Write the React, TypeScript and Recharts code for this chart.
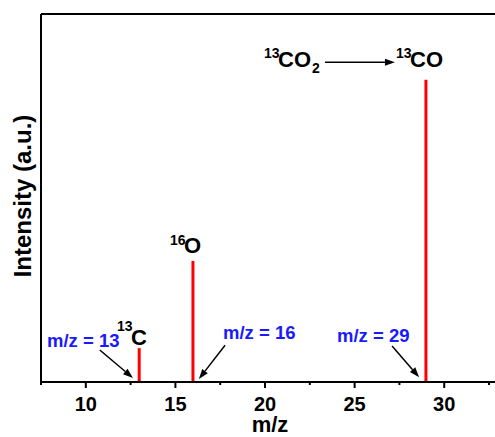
import React from 'react';
import { ComposedChart, Bar, XAxis, YAxis, ReferenceLine } from 'recharts';

// peak positions (m/z) and relative intensity (a.u., 0-100 scale)
const MZ = [13, 16, 29];
const INTENSITY = [9.2, 32.9, 82.1];
const MAJOR_TICKS = [10, 15, 20, 25, 30];
const MINOR_TICKS = [7.5, 12.5, 17.5, 22.5, 27.5, 32.5];

// arrow annotations in data coordinates: [x1, y1, x2, y2]
const ARROWS: [number, number, number, number][] = [
  [10.78, 8.7, 12.63, 1.1],
  [17.77, 10.0, 16.31, 0.8],
  [27.09, 9.8, 28.6, 1.3],
  [23.35, 86.9, 27.25, 86.9],
];

const W = 498;
const H = 437;
const FONT = 'Liberation Sans, Arial, sans-serif';
const RED = '#ff0000';
const BLUE = '#1a1aff';

const data = MZ.map((mz, i) => ({ mz, intensity: INTENSITY[i] }));
const allTicks = [...MAJOR_TICKS, ...MINOR_TICKS].sort((a, b) => a - b);

const AxisTick = ({ x, y, payload }: any) => {
  const major = MAJOR_TICKS.includes(payload.value);
  return (
    <g>
      <line x1={x} x2={x} y1={y} y2={y + (major ? 6 : 3)} stroke="#000" strokeWidth={2} />
      {major && (
        <text x={x} y={y + 29} textAnchor="middle" fontSize={20} fontWeight="bold" fontFamily={FONT} fill="#000">
          {payload.value}
        </text>
      )}
    </g>
  );
};

const Arrow = (props: any) => {
  const { x1, y1, x2, y2 } = props;
  const ang = Math.atan2(y2 - y1, x2 - x1);
  const len = 10;
  const half = 3.5;
  const bx = x2 - len * Math.cos(ang);
  const by = y2 - len * Math.sin(ang);
  const px = -Math.sin(ang) * half;
  const py = Math.cos(ang) * half;
  return (
    <g>
      <line x1={x1} y1={y1} x2={bx} y2={by} stroke="#000" strokeWidth={1.5} />
      <polygon points={`${x2},${y2} ${bx + px},${by + py} ${bx - px},${by - py}`} fill="#000" />
    </g>
  );
};

const txt = { fontFamily: FONT, fontWeight: 'bold' as const };

export default function App() {
  return (
    <div style={{ position: 'absolute', left: 0, top: 0, width: 495, height: H, overflow: 'hidden', background: '#fff' }}>
      <ComposedChart width={W} height={H} data={data} margin={{ top: 13, right: 0, bottom: 0, left: 40 }}>
        <XAxis
          dataKey="mz"
          type="number"
          domain={[7.5, 33]}
          ticks={allTicks}
          interval={0}
          allowDataOverflow
          tickSize={0}
          tickMargin={0}
          tick={<AxisTick />}
          axisLine={{ stroke: '#000', strokeWidth: 2 }}
          height={55}
        />
        <XAxis xAxisId="top" orientation="top" type="number" domain={[7.5, 33]} tick={false} tickLine={false} height={1} axisLine={{ stroke: '#000', strokeWidth: 2 }} />
        <YAxis type="number" domain={[0, 100]} tick={false} tickLine={false} width={1} axisLine={{ stroke: '#000', strokeWidth: 2 }} />
        <Bar dataKey="intensity" fill={RED} barSize={3} isAnimationActive={false} />
        {ARROWS.map(([x1, y1, x2, y2], i) => (
          <ReferenceLine key={i} segment={[{ x: x1, y: y1 }, { x: x2, y: y2 }]} shape={<Arrow />} ifOverflow="visible" />
        ))}
      </ComposedChart>
      <svg width={495} height={H} style={{ position: 'absolute', left: 0, top: 0, pointerEvents: 'none' }}>
        <text x={31} y={196} transform="rotate(-90 31 196)" textAnchor="middle" fontSize={24} {...txt}>Intensity (a.u.)</text>
        <text x={270} y={432} textAnchor="middle" fontSize={22} {...txt}>m/z</text>

        <text x={47} y={347} fontSize={18.5} fill={BLUE} {...txt}>m/z = 13</text>
        <text x={223} y={339} fontSize={18.5} fill={BLUE} {...txt}>m/z = 16</text>
        <text x={337} y={342} fontSize={18.5} fill={BLUE} {...txt}>m/z = 29</text>

        <text x={117} y={331} fontSize={14} {...txt}>13</text>
        <text x={131} y={345} fontSize={22} {...txt}>C</text>

        <text x={170} y={245} fontSize={14} {...txt}>16</text>
        <text x={184} y={253} fontSize={22} {...txt}>O</text>

        <text x={264} y={58} fontSize={14} {...txt}>13</text>
        <text x={278} y={67} fontSize={22} {...txt}>CO</text>
        <text x={312} y={73} fontSize={14} {...txt}>2</text>

        <text x={396} y={58} fontSize={14} {...txt}>13</text>
        <text x={410} y={67} fontSize={22} {...txt}>CO</text>
      </svg>
    </div>
  );
}
